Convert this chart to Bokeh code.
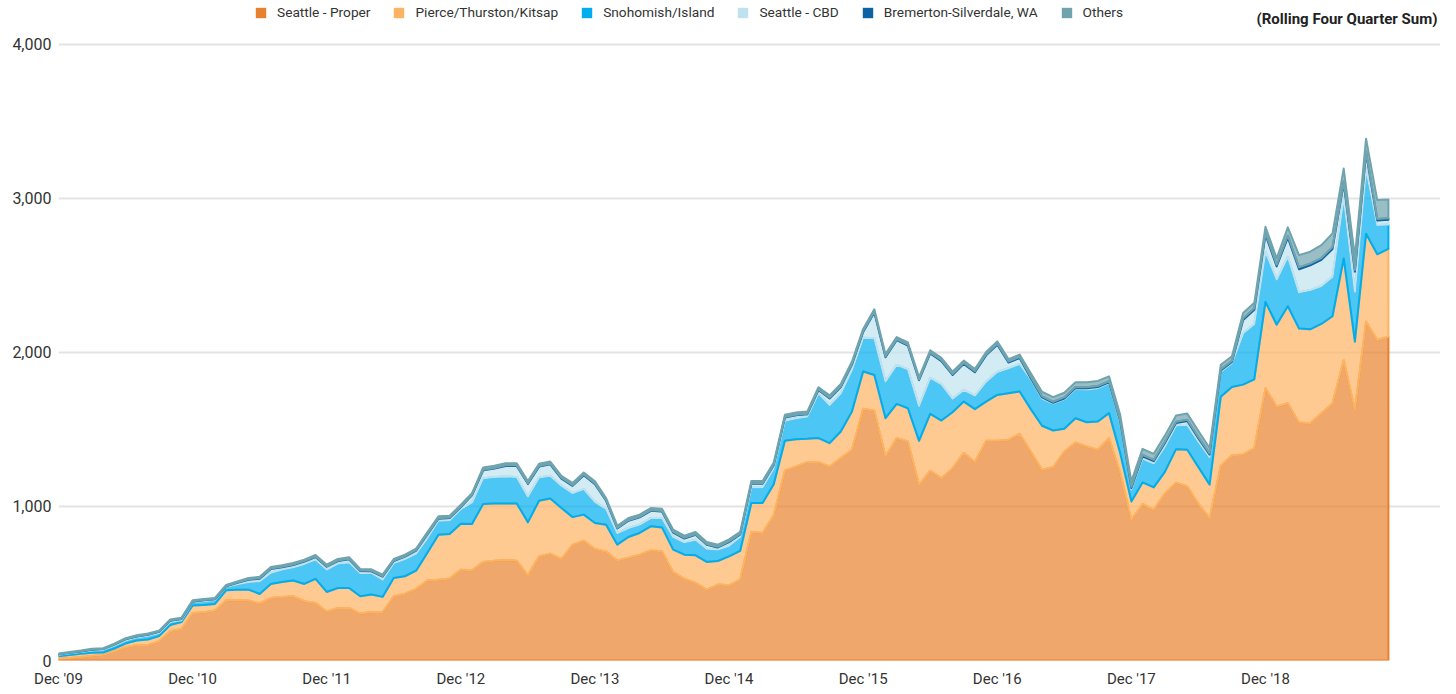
import numpy as np
import pandas as pd
from bokeh.plotting import figure
from bokeh.models import Range1d, FixedTicker, NumeralTickFormatter, Legend, LegendItem, Label
from bokeh.embed import file_html
from bokeh.resources import INLINE

# Monthly observations, Dec 2009 .. Nov 2019 (rolling four quarter sum)
months = pd.period_range("2009-12", periods=120, freq="M")

seattle_proper = [11, 17, 22, 30, 37, 60, 86, 101, 101, 125,
                  190, 205, 309, 313, 324, 391, 391, 389, 370, 406,
                  413, 417, 385, 374, 318, 341, 341, 305, 315, 315,
                  417, 434, 465, 519, 525, 532, 590, 586, 640, 648,
                  653, 648, 553, 676, 694, 659, 752, 778, 724, 707,
                  650, 668, 687, 715, 709, 573, 532, 504, 460, 493,
                  488, 527, 836, 828, 944, 1234, 1260, 1288, 1288, 1260,
                  1314, 1368, 1634, 1621, 1325, 1444, 1422, 1141, 1232, 1184,
                  1249, 1348, 1289, 1426, 1426, 1433, 1472, 1357, 1238, 1256,
                  1357, 1415, 1390, 1368, 1444, 1217, 914, 1016, 979, 1085,
                  1155, 1131, 1018, 925, 1265, 1332, 1338, 1379, 1768, 1649,
                  1670, 1545, 1541, 1606, 1670, 1951, 1627, 2200, 2081, 2103]

pierce_thurston_kitsap = [17, 18, 21, 20, 15, 18, 24, 29, 35, 33,
                          41, 44, 48, 48, 43, 65, 69, 71, 62, 91,
                          97, 102, 112, 156, 127, 130, 130, 112, 113, 98,
                          119, 113, 118, 179, 292, 289, 298, 300, 376, 372,
                          367, 372, 344, 361, 358, 331, 179, 169, 169, 175,
                          102, 134, 141, 156, 155, 147, 155, 179, 180, 153,
                          188, 185, 186, 194, 200, 192, 177, 151, 156, 151,
                          173, 248, 242, 233, 248, 222, 216, 285, 369, 374,
                          363, 333, 343, 255, 298, 302, 274, 275, 286, 237,
                          147, 158, 157, 184, 162, 129, 119, 140, 145, 140,
                          217, 237, 237, 217, 447, 444, 453, 446, 560, 531,
                          630, 610, 609, 579, 565, 659, 443, 570, 556, 569]

snohomish_island = [10, 12, 12, 15, 17, 19, 20, 20, 24, 20,
                    19, 13, 21, 24, 25, 22, 35, 50, 83, 73,
                    80, 86, 130, 125, 145, 158, 166, 151, 140, 112,
                    97, 112, 111, 97, 90, 90, 95, 140, 168, 171,
                    175, 171, 168, 151, 147, 145, 156, 166, 137, 103,
                    76, 58, 54, 54, 61, 82, 80, 101, 86, 74,
                    69, 91, 103, 103, 105, 130, 136, 145, 291, 247,
                    248, 271, 220, 238, 238, 253, 253, 227, 234, 237,
                    88, 76, 88, 129, 149, 162, 179, 194, 176, 175,
                    191, 189, 213, 216, 194, 194, 77, 154, 156, 165,
                    153, 162, 165, 178, 163, 154, 333, 360, 326, 294,
                    321, 235, 255, 246, 257, 400, 324, 424, 190, 159]

seattle_cbd = [2, 3, 4, 5, 5, 6, 7, 6, 7, 8,
               8, 7, 4, 6, 5, 4, 9, 14, 16, 24,
               15, 15, 15, 17, 19, 17, 20, 13, 11, 20,
               13, 15, 19, 22, 14, 14, 13, 46, 51, 55,
               68, 72, 82, 71, 75, 46, 47, 90, 115, 52,
               29, 47, 47, 47, 42, 29, 25, 32, 25, 14,
               24, 15, 22, 22, 18, 21, 19, 14, 21, 43,
               41, 34, 37, 168, 158, 161, 154, 167, 159, 149,
               154, 169, 152, 171, 177, 38, 39, 7, 8, 5,
               6, 7, 7, 7, 6, 13, 10, 16, 14, 22,
               17, 25, 22, 17, 8, 8, 87, 92, 110, 85,
               125, 150, 160, 170, 180, 90, 130, 100, 30, 30]

bremerton_silverdale = [1, 1, 1, 1, 1, 1, 2, 2, 2, 2,
                        2, 2, 2, 2, 2, 2, 2, 3, 3, 3,
                        3, 3, 3, 3, 3, 3, 3, 3, 3, 3,
                        3, 3, 3, 3, 3, 3, 3, 3, 4, 4,
                        4, 4, 4, 4, 4, 4, 4, 4, 4, 4,
                        4, 4, 4, 4, 4, 4, 4, 4, 4, 4,
                        4, 4, 4, 4, 4, 4, 4, 4, 4, 5,
                        5, 5, 5, 5, 5, 5, 5, 5, 5, 6,
                        6, 6, 6, 6, 6, 6, 6, 7, 7, 7,
                        7, 7, 7, 7, 7, 7, 8, 8, 8, 8,
                        8, 8, 8, 8, 7, 7, 10, 10, 12, 10,
                        12, 12, 12, 12, 12, 10, 12, 10, 10, 10]

others = [4, 5, 5, 5, 5, 6, 6, 6, 6, 6,
          6, 6, 7, 7, 7, 7, 8, 9, 9, 10,
          10, 10, 10, 10, 10, 10, 10, 10, 10, 10,
          10, 10, 10, 12, 12, 12, 12, 12, 14, 14,
          14, 14, 14, 14, 14, 14, 14, 14, 14, 14,
          14, 14, 14, 14, 14, 14, 14, 14, 14, 14,
          14, 14, 14, 14, 14, 14, 14, 14, 14, 15,
          15, 15, 15, 15, 15, 15, 15, 15, 15, 15,
          15, 15, 15, 16, 16, 16, 16, 25, 30, 30,
          30, 30, 32, 33, 32, 35, 35, 40, 40, 40,
          40, 40, 40, 35, 30, 30, 35, 35, 40, 42,
          54, 80, 77, 84, 89, 84, 85, 84, 122, 122]

series_names = ["Seattle - Proper", "Pierce/Thurston/Kitsap", "Snohomish/Island",
                "Seattle - CBD", "Bremerton-Silverdale, WA", "Others"]
colors = ["#E8812E", "#FDB462", "#00AEEF", "#C0E2EE", "#0B62A4", "#6FA3AE"]
y_ticks = [0, 1000, 2000, 3000, 4000]
title_text = "(Rolling Four Quarter Sum)"

x = np.arange(len(months))
stack = np.vstack([seattle_proper, pierce_thurston_kitsap, snohomish_island,
                   seattle_cbd, bremerton_silverdale, others]).astype(float)
tops = np.cumsum(stack, axis=0)
bottoms = tops - stack

tick_pos = [int(i) for i, m in enumerate(months) if m.month == 12]
tick_labels = {int(i): months[i].strftime("Dec '%y") for i in tick_pos}

FONT = "Roboto"

p = figure(width=1440, height=690, x_range=Range1d(0, 123.66), y_range=Range1d(0, 4285),
           output_backend="svg", toolbar_location=None,
           min_border_left=58, min_border_right=0, min_border_top=0, min_border_bottom=29)
p.outline_line_color = None
p.background_fill_color = "white"
p.border_fill_color = "white"

for k in range(len(series_names)):
    xs = np.concatenate([x, x[::-1]])
    ys = np.concatenate([tops[k], bottoms[k][::-1]])
    p.patch(xs, ys, fill_color=colors[k], fill_alpha=0.7,
            line_color=colors[k], line_width=2, line_join="round")

# legend swatches: off-screen dummy quads so the legend draws solid squares
items = []
for k, name in enumerate(series_names):
    r = p.quad(left=[-200], right=[-199], bottom=[-200], top=[-199],
               fill_color=colors[k], line_color=colors[k], line_width=0)
    items.append(LegendItem(label=name, renderers=[r]))

legend = Legend(items=items, orientation="horizontal", location=(196, 640),
                glyph_width=13, glyph_height=13, label_height=13,
                label_standoff=10, spacing=22, padding=0, margin=0,
                border_line_color=None, background_fill_alpha=0,
                label_text_font=FONT, label_text_font_size="13.7px",
                label_text_color="#333333")
p.add_layout(legend)

p.add_layout(Label(x=123.39, y=4165, text=title_text, text_align="right",
                   text_baseline="middle", text_font=FONT,
                   text_font_size="15px", text_font_style="bold",
                   text_color="#222222"))

p.xgrid.visible = False
p.ygrid.grid_line_color = "#e3e3e3"
p.ygrid.grid_line_width = 2
p.yaxis.ticker = FixedTicker(ticks=y_ticks)
p.yaxis.formatter = NumeralTickFormatter(format="0,0")
p.xaxis.ticker = FixedTicker(ticks=tick_pos)
p.xaxis.major_label_overrides = tick_labels

for ax in (p.xaxis[0], p.yaxis[0]):
    ax.axis_line_color = None
    ax.major_tick_line_color = None
    ax.minor_tick_line_color = None
    ax.major_label_text_font = FONT
    ax.major_label_text_color = "#333333"
p.yaxis.major_label_text_font_size = "16px"
p.yaxis.major_label_standoff = 1
p.xaxis.major_label_text_font_size = "15px"
p.xaxis.major_label_standoff = 3

open("out.html", "w").write(file_html(p, INLINE))
